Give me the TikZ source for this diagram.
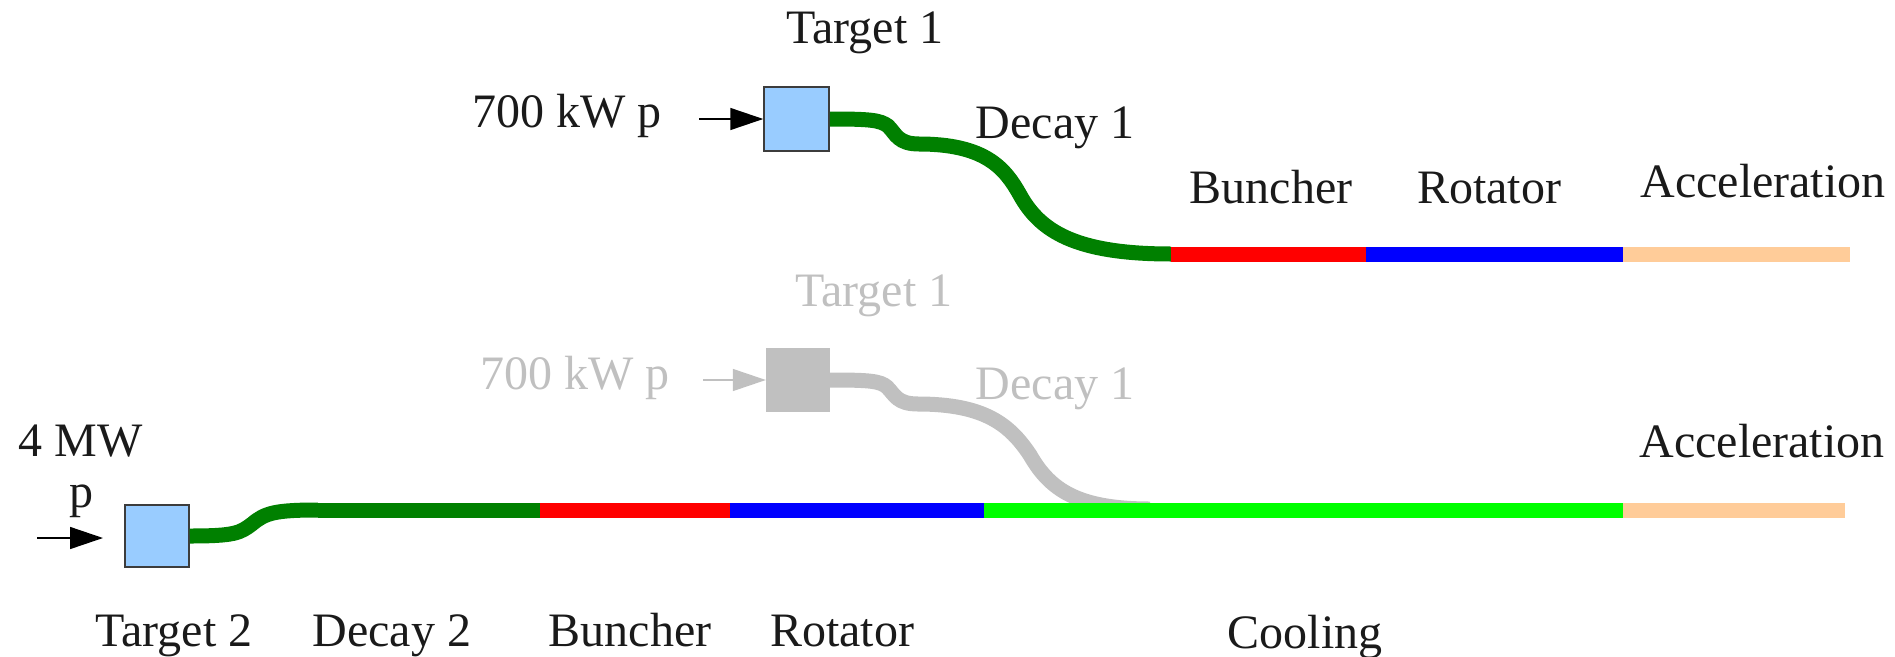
\documentclass[tikz,border=0pt]{standalone}
\usepackage{fontspec}
\setmainfont{Liberation Serif}
\usetikzlibrary{arrows.meta}
\definecolor{boxblue}{HTML}{99CCFF}
\definecolor{pgreen}{HTML}{008000}
\definecolor{pred}{HTML}{FF0000}
\definecolor{pblue}{HTML}{0000FF}
\definecolor{pcool}{HTML}{00FF00}
\definecolor{pacc}{HTML}{FFCC99}
\definecolor{ghost}{HTML}{C0C0C0}
\definecolor{ink}{HTML}{1A1A1A}
\begin{document}
\begin{tikzpicture}[x=1pt,y=-1pt,
  lbl/.style={anchor=base,inner sep=0pt,text=ink,font=\fontsize{48}{58}\selectfont},
  ghostlbl/.style={lbl,text=ghost},
  target/.style={draw=ink!85,line width=1.5pt,fill=boxblue,minimum width=65pt,minimum height=64pt,inner sep=0pt},
  ghosttarget/.style={fill=ghost,minimum width=64pt,minimum height=64pt,inner sep=0pt},
  pipe/.style={line width=15pt,line cap=butt},
  beam/.style={line width=1.5pt,draw=black,-{Triangle[length=33pt,width=22pt]}},
]
\useasboundingbox (0,0) rectangle (1895,656);

% ---------- top line (Target 1) ----------
\node[target] (t1) at (796.5,119) {};
\coordinate (a1) at (699,119);
\draw[beam] (a1) -- (t1.west);
\coordinate (s1) at (919,144);
\coordinate (m1) at (1020,195);
\coordinate (e1) at (1171,254);
\coordinate (r1) at (1366,254);
\coordinate (o1) at (1623,254);
\coordinate (z1) at (1850,254);
\draw[pipe,pgreen] (t1.east) .. controls (870,119) and (880,120) .. (888,126)
                   .. controls (896,134) and (898,144) .. (s1);
\draw[pipe,pgreen] (s1) .. controls (985,144) and (1005,168) .. (m1)
                        .. controls (1040,231) and (1075,254) .. (e1);
\draw[pipe,pred] (e1) -- (r1);
\draw[pipe,pblue] (r1) -- (o1);
\draw[pipe,pacc] (o1) -- (z1);

\node[lbl] (lt1) at (865,43) {Target 1};
\node[lbl] (lp1) at (567,127) {700 kW p};
\node[lbl] (ld1) at (1055,138) {Decay 1};
\node[lbl] (lb1) at (1271,203) {Buncher};
\node[lbl] (lr1) at (1489,203) {Rotator};
\node[lbl] (la1) at (1763,197) {Acceleration};

% ---------- ghost line ----------
\node[ghosttarget] (g1) at (798,380) {};
\coordinate (a2) at (703,380);
\draw[beam,draw=ghost,-{Triangle[length=33pt,width=22pt,fill=ghost]}] (a2) -- (g1.west);
\coordinate (s2) at (918,404);
\coordinate (m2) at (1030,455);
\coordinate (e2) at (1150,509);
\draw[pipe,ghost] (g1.east) .. controls (870,380) and (880,381) .. (887,387)
                  .. controls (895,395) and (897,404) .. (s2);
\draw[pipe,ghost] (s2) .. controls (985,404) and (1010,425) .. (m2)
                       .. controls (1050,490) and (1078,509) .. (e2);

\node[ghostlbl] (lt2) at (874,306) {Target 1};
\node[ghostlbl] (lp2) at (575,389) {700 kW p};
\node[ghostlbl] (ld2) at (1055,399) {Decay 1};

% ---------- bottom line (Target 2) ----------
\node[target,minimum width=64pt,minimum height=62pt] (t2) at (157,536) {};
\coordinate (a3s) at (37,538);
\coordinate (a3e) at (103,538);
\draw[beam] (a3s) -- (a3e);
\coordinate (s3) at (318,510);
\coordinate (r3) at (540,510);
\coordinate (b3) at (730,510);
\coordinate (c3) at (984,510);
\coordinate (o3) at (1623,510);
\coordinate (z3) at (1845,510);
\draw[pipe,pgreen] (t2.east) .. controls (235,536) and (240,533) .. (252,524)
                   .. controls (265,513) and (275,510) .. (s3);
\draw[pipe,pgreen] (s3) -- (r3);
\draw[pipe,pred] (r3) -- (b3);
\draw[pipe,pblue] (b3) -- (c3);
\draw[pipe,pcool] (c3) -- (o3);
\draw[pipe,pacc] (o3) -- (z3);

\node[lbl] (l4mw) at (80.5,456) {4 MW};
\node[lbl] (lp3) at (81,507) {p};
\node[lbl] (lt3) at (174,646) {Target 2};
\node[lbl] (ld3) at (392,646) {Decay 2};
\node[lbl] (lb3) at (630,646) {Buncher};
\node[lbl] (lr3) at (842,646) {Rotator};
\node[lbl] (lc3) at (1305,648) {Cooling};
\node[lbl] (la3) at (1762,457) {Acceleration};
\end{tikzpicture}
\end{document}
